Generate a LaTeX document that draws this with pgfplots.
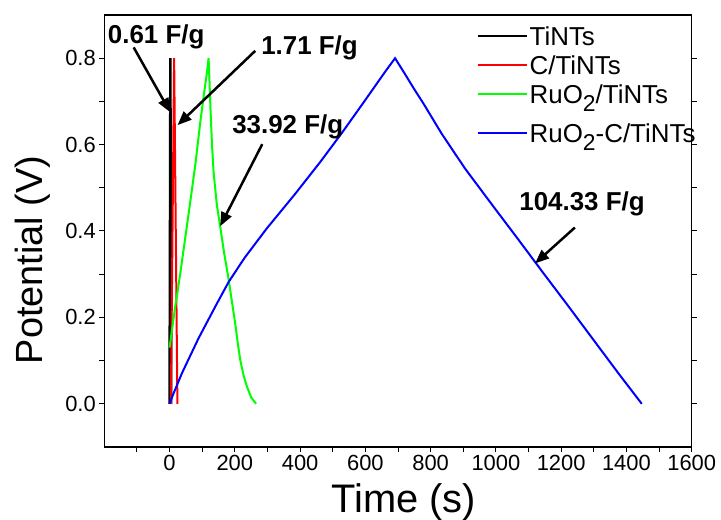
\documentclass[border=0pt]{standalone}
\usepackage{fontspec}
\setmainfont{Liberation Sans}
\usepackage{pgfplots}
\pgfplotsset{compat=1.18}
\usetikzlibrary{arrows.meta}
\definecolor{lgreen}{RGB}{0,255,0}
\newcommand{\sub}[1]{\raisebox{-8bp}{\fontsize{23}{23}\selectfont #1}}
\pgfplotsset{lowlegend/.style={legend image code/.code={\path (0bp,10bp); \draw[##1] (0bp,-10bp) -- (49bp,-10bp);}}}

\begin{document}
\begin{tikzpicture}
\begin{axis}[
  scale only axis, width=587.4bp, height=432bp,
  xmin=-200, xmax=1600, ymin=-0.1, ymax=0.9,
  xtick={0,200,...,1600}, minor xtick={-100,100,...,1500},
  ytick={0,0.2,0.4,0.6,0.8}, minor ytick={0.1,0.3,0.5,0.7},
  xticklabel style={/pgf/number format/1000 sep={}},
  yticklabel style={/pgf/number format/.cd, fixed, fixed zerofill, precision=1},
  /pgf/number format/assume math mode=true,
  tick label style={font=\fontsize{22}{22}\selectfont},
  xtick pos=bottom, ytick pos=both, tick align=outside,
  major tick length=5bp, minor tick length=5bp,
  every tick/.style={black, line width=1bp},
  axis line style={line width=1.3bp},
  xlabel={Time (s)}, ylabel={Potential (V)},
  x label style={font=\fontsize{40}{40}\selectfont, at={(axis description cs:0.51,0)}, anchor=base, yshift=-65bp},
  y label style={font=\fontsize{38}{38}\selectfont, at={(axis description cs:-0.106,0.433)}, anchor=base},
  legend style={draw=none, fill=none, at={(rel axis cs:0.6336,0.978)}, anchor=north west,
    font=\fontsize{26}{28}\selectfont, row sep=6bp, inner sep=0pt,
    nodes={inner sep=1.5bp, text height=19bp, text depth=1bp}},
  legend cell align=left,
  legend image code/.code={\draw[#1] (0bp,0bp) -- (49bp,0bp);},
]
\addplot[black, line width=2.5bp] coordinates {(0,0)(2.5,0.8)(5,0)};
\addlegendentry{TiNTs}
\addplot[red, line width=2bp] coordinates {(4,0)(9,0.4)(14,0.8)(19,0.4)(24,0)};
\addlegendentry{C/TiNTs}
\addplot[lgreen, line width=2bp] coordinates {
  (0,0.13)(8,0.175)(17.5,0.226)(25,0.262)(33,0.303)(43,0.357)(58,0.438)(68.6,0.496)
  (80,0.56)(94,0.651)(105,0.715)(114.5,0.767)(119.5,0.80)
  (122,0.755)(125,0.69)(130,0.60)(135,0.535)(145,0.46)(155,0.411)(167,0.35)
  (181,0.288)(191,0.237)(201,0.187)(210,0.135)(216.5,0.102)(227,0.065)(237,0.04)
  (250,0.015)(265,0.0)};
\addlegendentry{RuO\sub{2}/TiNTs}
\addplot[blue, line width=2bp, lowlegend] coordinates {
  (0,0)(10,0.02)(38,0.071)(89,0.152)(145,0.232)(181,0.282)(230,0.338)(298,0.406)
  (385,0.486)(462,0.560)(528,0.627)(594,0.697)(660,0.768)(691,0.80)
  (720,0.765)(750,0.728)(778,0.695)(834,0.625)(905,0.545)(992,0.457)(1069,0.38)
  (1145,0.303)(1222,0.226)(1299,0.148)(1375,0.071)(1447,0.0)};
\addlegendentry{\raisebox{-10bp}{RuO\sub{2}-C/TiNTs}}

\draw[line width=2.5bp, -{Triangle[length=14bp,width=11bp]}] (axis cs:-110,0.825) -- (axis cs:2,0.675);
\node[font=\bfseries\fontsize{26}{26}\selectfont] at (axis cs:-41,0.849) {0.61 F/g};
\draw[line width=2.5bp, -{Triangle[length=14bp,width=11bp]}] (axis cs:262.5,0.817) -- (axis cs:24.5,0.645);
\node[font=\bfseries\fontsize{26}{26}\selectfont] at (axis cs:429,0.825) {1.71 F/g};
\draw[line width=2.5bp, -{Triangle[length=14bp,width=11bp]}] (axis cs:284,0.601) -- (axis cs:155,0.411);
\node[font=\bfseries\fontsize{26}{26}\selectfont] at (axis cs:362,0.642) {33.92 F/g};
\draw[line width=2.5bp, -{Triangle[length=14bp,width=11bp]}] (axis cs:1242,0.408) -- (axis cs:1120,0.325);
\node[font=\bfseries\fontsize{26}{26}\selectfont] at (axis cs:1264,0.462) {104.33 F/g};
\end{axis}
\pgfresetboundingbox
\path[use as bounding box] ([shift={(-104.3bp,-73bp)}]current axis.south west) rectangle ++(721bp,520bp);
\end{tikzpicture}
\end{document}
